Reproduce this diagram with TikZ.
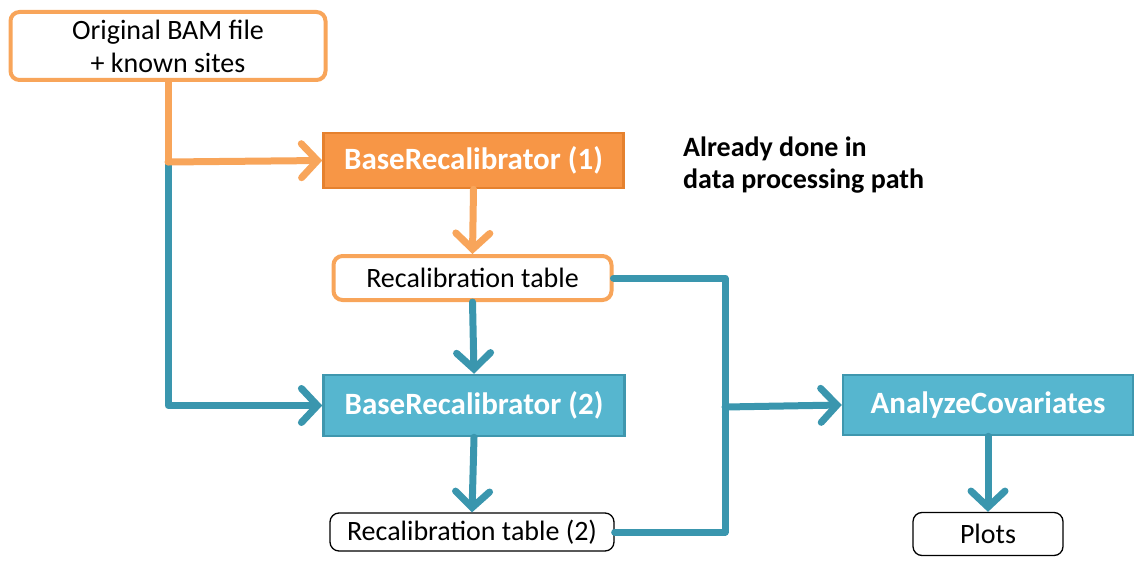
\documentclass[tikz,border=0pt]{standalone}
\usepackage{fontspec}
\setmainfont{Carlito}
\usetikzlibrary{arrows.meta}
\definecolor{orfill}{HTML}{F79646}
\definecolor{ordraw}{HTML}{E5812E}
\definecolor{orline}{HTML}{F8A55A}
\definecolor{blfill}{HTML}{56B6CF}
\definecolor{bldraw}{HTML}{3F97AE}
\definecolor{blline}{HTML}{3A96AE}
\tikzset{
  proc/.style={draw, line width=2.5pt, inner sep=0pt, font=\fontsize{31}{36}\selectfont\bfseries, text=white},
  orproc/.style={proc, fill=orfill, draw=ordraw},
  blproc/.style={proc, fill=blfill, draw=bldraw},
  databox/.style={draw, fill=white, rounded corners=9pt, inner sep=0pt, font=\fontsize{28}{33}\selectfont, align=center},
  conn/.style={line width=7pt, line cap=round, line join=round},
  tip/.style={-{Straight Barb[length=16pt,width=34pt,line cap=round]}},
}
\begin{document}
\begin{tikzpicture}[x=1pt,y=-1pt]
\useasboundingbox (0,0) rectangle (1143,567);
% nodes
\node[databox, draw=orline, line width=4pt, minimum width=315pt, minimum height=68pt] (bam) at (168,46) {Original BAM file\\+ known sites};
\node[orproc, minimum width=300pt, minimum height=55pt] (br1) at (473.5,160.5) {BaseRecalibrator (1)};
\node[databox, draw=orline, line width=4pt, minimum width=278pt, minimum height=44pt] (rt) at (472.5,278) {Recalibration table};
\node[blproc, minimum width=301pt, minimum height=61pt] (br2) at (474,405.5) {BaseRecalibrator (2)};
\node[databox, draw=black, line width=1.3pt, minimum width=284pt, minimum height=38pt] (rt2) at (472,532) {Recalibration table (2)};
\node[blproc, minimum width=290pt, minimum height=60pt] (ac) at (988,405) {AnalyzeCovariates};
\node[databox, draw=black, line width=1.3pt, minimum width=150pt, minimum height=43pt] (plots) at (988,534) {Plots};
\node[anchor=base west, align=left, font=\fontsize{28}{32}\selectfont\bfseries, inner sep=0pt] (note) at (683,188) {Already done in\\data processing path};
% connectors
\coordinate (j1) at (168,162);
\coordinate (j2) at (725,407);
\draw[conn, blline, tip] (j1) |- (br2.west);
\draw[conn, orline] (bam.south -| j1) -- (j1);
\draw[conn, orline, tip] (j1) -- (br1.west);
\draw[conn, orline, tip] (br1.south) -- (rt.north);
\draw[conn, blline, tip] (rt.south) -- (br2.north);
\draw[conn, blline, tip] (br2.south) -- (rt2.north);
\draw[conn, blline] (rt.east) -| (j2) |- (rt2.east);
\draw[conn, blline, tip] (j2) -- (ac.west);
\draw[conn, blline, tip] (ac.south) -- (plots.north);
\end{tikzpicture}
\end{document}
